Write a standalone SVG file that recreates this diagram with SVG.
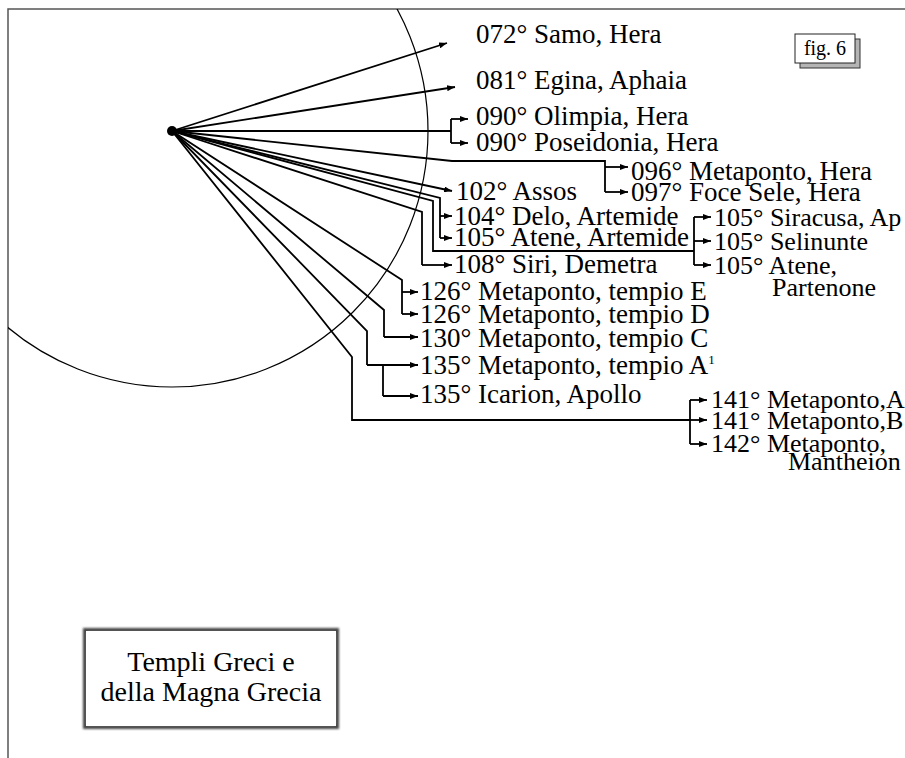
<svg xmlns="http://www.w3.org/2000/svg" width="905" height="758" viewBox="0 0 905 758">
<style>
.t{font-family:"Liberation Serif","Times New Roman",serif;font-size:27px;fill:#000}
.r{font-size:26px}
.ray{fill:none;stroke:#000;stroke-width:1.8;stroke-linejoin:miter}
.arr{fill:none;stroke:#000;stroke-width:1.8;marker-end:url(#ah)}
.frame{fill:none;stroke:#555;stroke-width:1.5}
</style>
<defs>
<marker id="ah" viewBox="0 0 8 6" refX="8" refY="3" markerWidth="8" markerHeight="6" markerUnits="userSpaceOnUse" orient="auto">
<path d="M0,0 L8,3 L0,6 z" fill="#000"/>
</marker>
<clipPath id="cl"><rect x="8" y="9" width="897" height="749"/></clipPath>
<filter id="bl" x="-10%" y="-10%" width="120%" height="120%"><feGaussianBlur stdDeviation="1"/></filter>
</defs>
<rect width="905" height="758" fill="#fff"/>
<path class="frame" d="M905,9 H8 V758"/>
<circle cx="172" cy="131" r="256" fill="none" stroke="#000" stroke-width="1.2" clip-path="url(#cl)"/>
<g id="connectors">
<path class="arr" d="M172,131 L447,43"/>
<path class="arr" d="M172,131 L455,87"/>
<path class="ray" d="M172,131 H451 M451,119 V143"/>
<path class="arr" d="M451,119 H468"/>
<path class="arr" d="M451,143 H468"/>
<path class="ray" d="M172,131 L452,161 H605 V192"/>
<path class="arr" d="M605,167 H628"/>
<path class="arr" d="M605,192 H628"/>
<path class="arr" d="M172,131 L452,191"/>
<path class="ray" d="M172,131 L440,198 V238"/>
<path class="arr" d="M440,216 H452"/>
<path class="arr" d="M440,238 H452"/>
<path class="ray" d="M172,131 L433,201 V251 H694 M694,217 V265"/>
<path class="arr" d="M694,217 H711"/>
<path class="arr" d="M694,241 H711"/>
<path class="arr" d="M694,265 H711"/>
<path class="ray" d="M172,131 L422,212 V265"/>
<path class="arr" d="M422,265 H452"/>
<path class="ray" d="M172,131 L402,280 V314"/>
<path class="arr" d="M402,292 H418"/>
<path class="arr" d="M402,314 H418"/>
<path class="ray" d="M172,131 L384,310 V337"/>
<path class="arr" d="M384,337 H418"/>
<path class="ray" d="M172,131 L367,331 V365 M383,365 V396"/>
<path class="arr" d="M367,365 H418"/>
<path class="arr" d="M383,396 H418"/>
<path class="ray" d="M172,131 L352,357 V420 H690 M690,400 V444"/>
<path class="arr" d="M690,400 H707"/>
<path class="arr" d="M690,420 H707"/>
<path class="arr" d="M690,444 H707"/>
</g>
<g id="origin"><circle cx="172" cy="131" r="5" fill="#000"/></g>
<g id="labels" font-family="Liberation Serif, Times New Roman, serif">
<g id="n072"><text class="t" x="476" y="43">072° Samo, Hera</text></g>
<g id="n081"><text class="t" x="476" y="89">081° Egina, Aphaia</text></g>
<g id="n090a"><text class="t" x="476" y="125">090° Olimpia, Hera</text></g>
<g id="n090b"><text class="t" x="476" y="151">090° Poseidonia, Hera</text></g>
<g id="n096"><text class="t" x="631" y="180">096° Metaponto, Hera</text></g>
<g id="n097"><text class="t" x="631" y="201">097° Foce Sele, Hera</text></g>
<g id="n102"><text class="t" x="456" y="200">102° Assos</text></g>
<g id="n104"><text class="t" x="454" y="225">104° Delo, Artemide</text></g>
<g id="n105a"><text class="t" x="454" y="246">105° Atene, Artemide</text></g>
<g id="n108"><text class="t" x="454" y="273">108° Siri, Demetra</text></g>
<g id="n105s"><text class="t r" x="714" y="226">105° Siracusa, Ap</text></g>
<g id="n105sel"><text class="t r" x="714" y="250">105° Selinunte</text></g>
<g id="n105p"><text class="t r" x="714" y="274">105° Atene,</text><text class="t r" x="772" y="296">Partenone</text></g>
<g id="n126e"><text class="t" x="420" y="300">126° Metaponto, tempio E</text></g>
<g id="n126d"><text class="t" x="420" y="323">126° Metaponto, tempio D</text></g>
<g id="n130"><text class="t" x="420" y="347">130° Metaponto, tempio C</text></g>
<g id="n135a"><text class="t" x="420" y="374">135° Metaponto, tempio A<tspan font-size="13" dy="-10">1</tspan></text></g>
<g id="n135i"><text class="t" x="420" y="403">135° Icarion, Apollo</text></g>
<g id="n141a"><text class="t r" x="711" y="408">141° Metaponto,A</text></g>
<g id="n141b"><text class="t r" x="711" y="429">141° Metaponto,B</text></g>
<g id="n142"><text class="t r" x="711" y="452">142° Metaponto,</text><text class="t r" x="788" y="470">Mantheion</text></g>
</g>
<g id="fig">
<rect x="800" y="39" width="60" height="29" fill="#b4b4b4" stroke="#333" stroke-width="1"/>
<rect x="795" y="34" width="60" height="29" fill="#fff" stroke="#222" stroke-width="1"/>
<text x="825" y="55" text-anchor="middle" font-family="Liberation Serif, Times New Roman, serif" font-size="20">fig. 6</text>
</g>
<g id="title">
<rect x="85" y="630" width="252" height="97" fill="none" stroke="#444" stroke-width="4" filter="url(#bl)"/>
<rect x="86" y="631" width="250" height="95" fill="#fff"/>
<text class="t" x="211" y="671" text-anchor="middle" style="font-size:28px">Templi Greci e</text>
<text class="t" x="211" y="701" text-anchor="middle" style="font-size:28px">della Magna Grecia</text>
</g>
</svg>
